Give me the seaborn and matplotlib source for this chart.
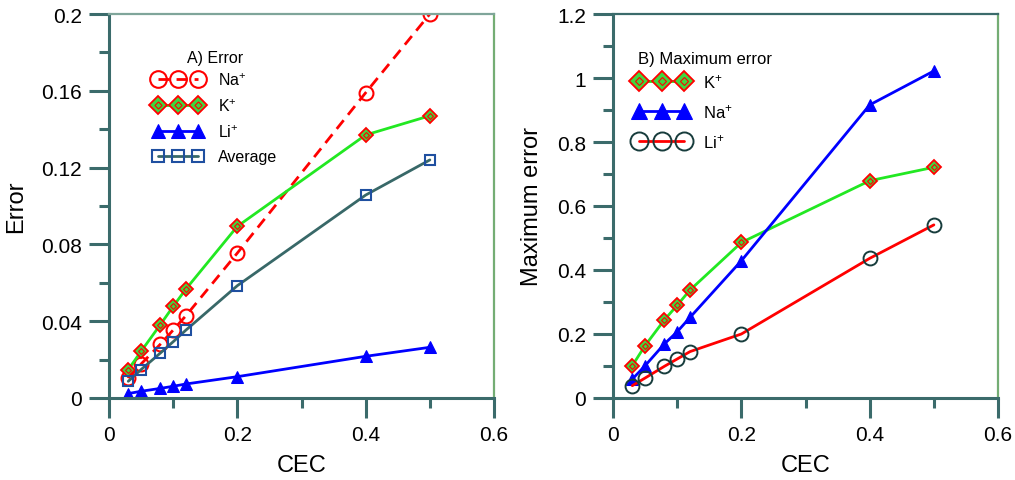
import numpy as np
import pandas as pd
import seaborn as sns
import matplotlib.pyplot as plt
from matplotlib.ticker import MultipleLocator
from matplotlib.legend_handler import HandlerTuple

# CEC values shared by all series
cec = [0.03, 0.05, 0.08, 0.1, 0.12, 0.2, 0.4, 0.5]

# A) Error
err_na = [0.0104, 0.0177, 0.028, 0.0354, 0.0429, 0.0755, 0.159, 0.2]
err_k = [0.0148, 0.0243, 0.0382, 0.0477, 0.0568, 0.0894, 0.137, 0.147]
err_li = [0.0023, 0.0035, 0.005, 0.0061, 0.0073, 0.0111, 0.0217, 0.0264]
err_avg = [0.0087, 0.0148, 0.0234, 0.0293, 0.0354, 0.0585, 0.1057, 0.124]

# B) Maximum error
max_k = [0.101, 0.164, 0.244, 0.29, 0.3375, 0.486, 0.679, 0.721]
max_na = [0.059, 0.101, 0.169, 0.207, 0.252, 0.429, 0.916, 1.022]
max_li = [0.0385, 0.0625, 0.099, 0.122, 0.145, 0.2, 0.4365, 0.541]

sns.set_style("white")
plt.rcParams["font.family"] = ["Liberation Sans", "DejaVu Sans"]
plt.rcParams["mathtext.default"] = "regular"
plt.rcParams["text.color"] = "black"
plt.rcParams["axes.labelcolor"] = "black"

dark = "#3b6b6b"
grn_spine = "#74ad74"


def style_axes(ax, ymax, ymaj, ymin, top_color):
    ax.set_xlim(0, 0.6)
    ax.set_ylim(0, ymax)
    ax.xaxis.set_major_locator(MultipleLocator(0.2))
    ax.xaxis.set_minor_locator(MultipleLocator(0.1))
    ax.yaxis.set_major_locator(MultipleLocator(ymaj))
    ax.yaxis.set_minor_locator(MultipleLocator(ymin))
    ax.xaxis.set_major_formatter(plt.FuncFormatter(lambda v, p: f"{v:g}"))
    ax.yaxis.set_major_formatter(plt.FuncFormatter(lambda v, p: f"{round(v, 3):g}"))
    ax.tick_params(which="major", direction="out", length=14.5, width=2.2,
                   color=dark, labelcolor="black", labelsize=15, pad=5,
                   bottom=True, left=True)
    ax.tick_params(which="minor", direction="out", length=7, width=2.2,
                   color=dark, bottom=True, left=True)
    for s in ["left", "bottom"]:
        ax.spines[s].set_color(dark)
        ax.spines[s].set_linewidth(2.2)
    ax.spines["top"].set_color(top_color)
    ax.spines["top"].set_linewidth(1.6)
    ax.spines["right"].set_color(grn_spine)
    ax.spines["right"].set_linewidth(1.6)
    ax.set_xlabel("CEC", fontsize=17, labelpad=7)


def k_legend(ax, inner, **kw):
    # overlay the small inner diamond on the K+ legend entry
    handles, labels = ax.get_legend_handles_labels()
    i = labels.index("K$^{+}$")
    handles[i] = (handles[i], inner)
    ax.legend(handles, labels, handler_map={tuple: HandlerTuple(ndivide=1, pad=0)},
              frameon=False, numpoints=3, borderaxespad=0, borderpad=0,
              loc="center left", **kw)


fig = plt.figure(figsize=(10.15, 4.81), dpi=100)
ax1 = fig.add_axes([0.1074, 0.1705, 0.3793, 0.7983])
ax2 = fig.add_axes([0.604, 0.1705, 0.3793, 0.7983])

diamond = dict(marker="D", markersize=7.5, markerfacecolor="#3fd83f",
               markeredgecolor="red", markeredgewidth=1.3)
inner = dict(ls="none", marker="D", markersize=3, markerfacecolor="none",
             markeredgecolor="red", markeredgewidth=0.8)

# ---- panel A
sns.lineplot(x=cec, y=err_na, ax=ax1, color="red", lw=2, dashes=False,
             linestyle=(0, (4, 2.5)), marker="o", markersize=10,
             markerfacecolor="none", markeredgecolor="red", markeredgewidth=1.5,
             label="Na$^{+}$")
sns.lineplot(x=cec, y=err_k, ax=ax1, color="#22e822", lw=2, label="K$^{+}$", **diamond)
sns.lineplot(x=cec, y=err_li, ax=ax1, color="#0000ff", lw=2, marker="^", markersize=8,
             markerfacecolor="#0000ff", markeredgecolor="#0000ff", label="Li$^{+}$")
sns.lineplot(x=cec, y=err_avg, ax=ax1, color="#386868", lw=2, marker="s", markersize=7.5,
             markerfacecolor="none", markeredgecolor="#1f4fa0", markeredgewidth=1.5,
             label="Average")
k_inner1, = ax1.plot(cec, err_k, **inner)

style_axes(ax1, 0.2, 0.04, 0.02, "#7fa59a")
ax1.set_ylabel("Error", fontsize=17, labelpad=10)
ax1.text(0.275, 0.888, "A) Error", transform=ax1.transAxes, fontsize=11.5,
         ha="center", va="center")
k_legend(ax1, k_inner1, bbox_to_anchor=(0.116, 0.730), handlelength=3.1,
         handletextpad=0.9, fontsize=11.5, labelspacing=0.59, markerscale=1.2)

# ---- panel B
sns.lineplot(x=cec, y=max_k, ax=ax2, color="#22e822", lw=2, label="K$^{+}$", **diamond)
sns.lineplot(x=cec, y=max_na, ax=ax2, color="#0000ff", lw=2, marker="^", markersize=9,
             markerfacecolor="#0000ff", markeredgecolor="#0000ff", label="Na$^{+}$")
sns.lineplot(x=cec, y=max_li, ax=ax2, color="red", lw=2, marker="o", markersize=10,
             markerfacecolor="none", markeredgecolor="#173c3c", markeredgewidth=1.4,
             label="Li$^{+}$")
k_inner2, = ax2.plot(cec, max_k, **inner)

style_axes(ax2, 1.2, 0.2, 0.1, dark)
ax2.set_ylabel("Maximum error", fontsize=17, labelpad=10)
ax2.text(0.239, 0.883, "B) Maximum error", transform=ax2.transAxes, fontsize=12,
         ha="center", va="center")
k_legend(ax2, k_inner2, bbox_to_anchor=(0.055, 0.747), handlelength=3.3,
         handletextpad=0.8, fontsize=12, labelspacing=0.73, markerscale=1.3)

fig.savefig("out.png", dpi=100)
